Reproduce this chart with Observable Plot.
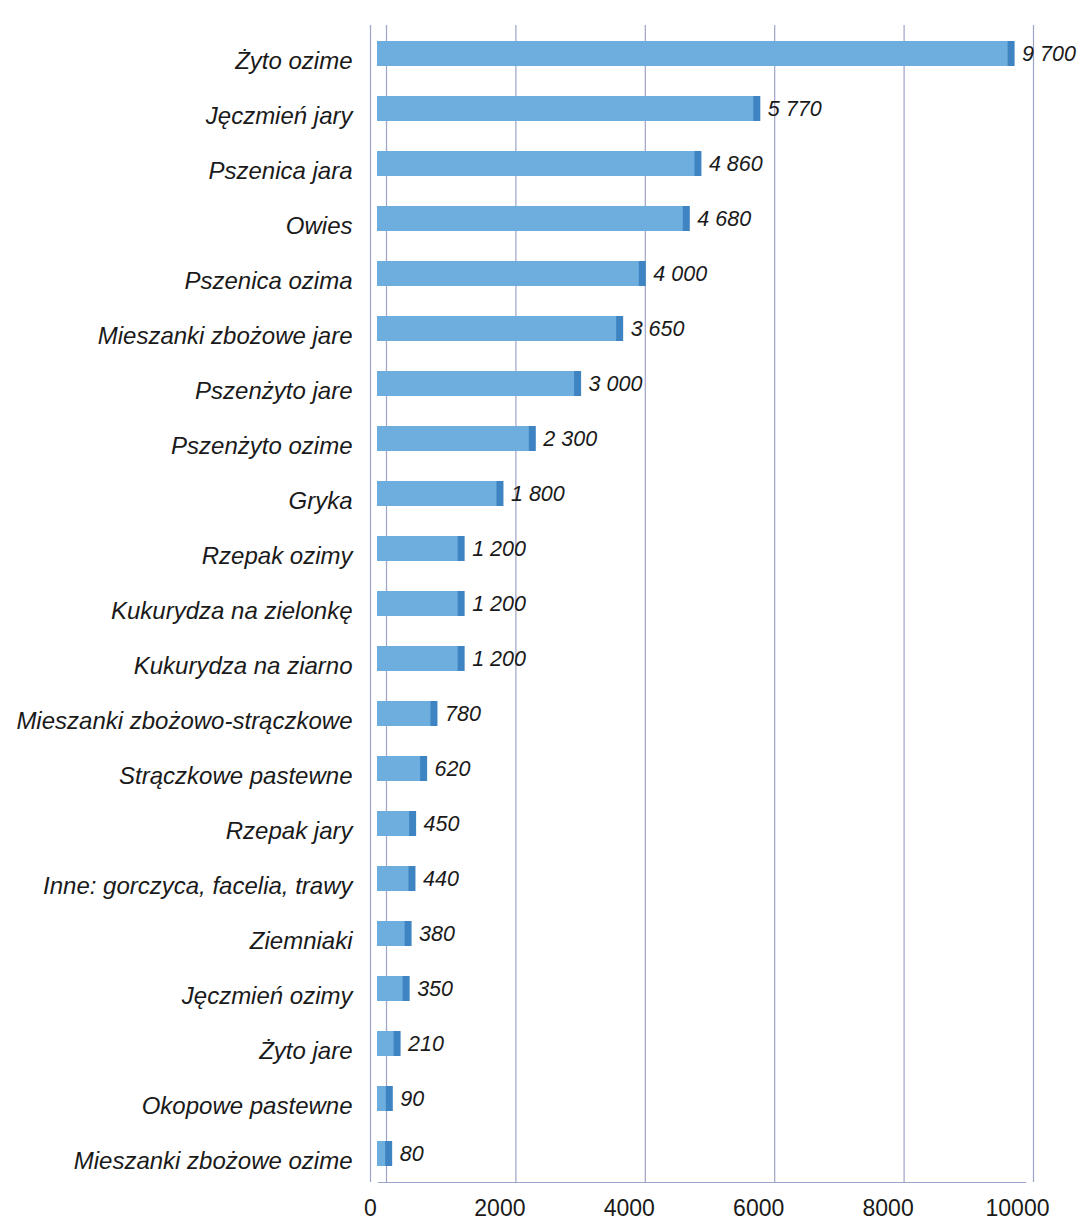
<!DOCTYPE html>
<html>
<head>
<meta charset="utf-8">
<script src="https://cdn.jsdelivr.net/npm/d3@7"></script>
<script src="https://cdn.jsdelivr.net/npm/@observablehq/plot@0.6"></script>
<style>
  html, body { margin: 0; padding: 0; background: #ffffff; }
  #chart svg { display: block; }
</style>
</head>
<body>
<div id="chart"></div>
<script>
const categories = [
  "Żyto ozime", "Jęczmień jary", "Pszenica jara", "Owies", "Pszenica ozima",
  "Mieszanki zbożowe jare", "Pszenżyto jare", "Pszenżyto ozime", "Gryka",
  "Rzepak ozimy", "Kukurydza na zielonkę", "Kukurydza na ziarno",
  "Mieszanki zbożowo-strączkowe", "Strączkowe pastewne", "Rzepak jary",
  "Inne: gorczyca, facelia, trawy", "Ziemniaki", "Jęczmień ozimy",
  "Żyto jare", "Okopowe pastewne", "Mieszanki zbożowe ozime"
];
const values = [9700, 5770, 4860, 4680, 4000, 3650, 3000, 2300, 1800, 1200, 1200, 1200, 780, 620, 450, 440, 380, 350, 210, 90, 80];
const xTicks = [0, 2000, 4000, 6000, 8000, 10000];

const data = categories.map((c, i) => ({category: c, value: values[i]}));
const fmt = v => d3.format(",")(v).replace(/,/g, " ");

const gridColor = "#9ea3c9";
const font = "'Liberation Sans', Arial, sans-serif";

const chart = Plot.plot({
  width: 1079,
  height: 1227,
  marginLeft: 386,
  marginRight: 46,
  marginTop: 25,
  marginBottom: 45,
  style: {fontFamily: font, background: "#ffffff"},
  x: {domain: [0, 10000]},
  y: {domain: categories, paddingInner: 0.55, paddingOuter: 0.275},
  marks: [
    Plot.ruleX(xTicks, {stroke: gridColor, strokeWidth: 1.2}),
    Plot.ruleX([0], {stroke: gridColor, strokeWidth: 1.2, dx: -16}),
    Plot.frame({anchor: "bottom", stroke: gridColor, strokeWidth: 1.2, dx: -8}),
    Plot.barX(data, {x1: 0, x2: "value", y: "category", fill: "#6eaedf", insetLeft: -9}),
    Plot.tickX(data, {x: "value", y: "category", stroke: "#3f84c2", strokeWidth: 7, dx: -3}),
    Plot.text(data, {
      x: "value", y: "category", text: d => fmt(d.value),
      textAnchor: "start", dx: 8, dy: 0, fontSize: 21.5, fontStyle: "italic", fill: "#1a1a1a"
    }),
    Plot.axisY({
      tickSize: 0, tickPadding: 34, dy: 7, fontSize: 24, fontStyle: "italic",
      label: null, fill: "#1a1a1a"
    }),
    Plot.axisX({
      ticks: xTicks, tickFormat: d => String(d), tickSize: 0, tickPadding: 8,
      fontSize: 23, label: null, fill: "#1a1a1a", dy: 9, dx: -16
    })
  ]
});
document.getElementById("chart").appendChild(chart);
</script>
</body>
</html>
